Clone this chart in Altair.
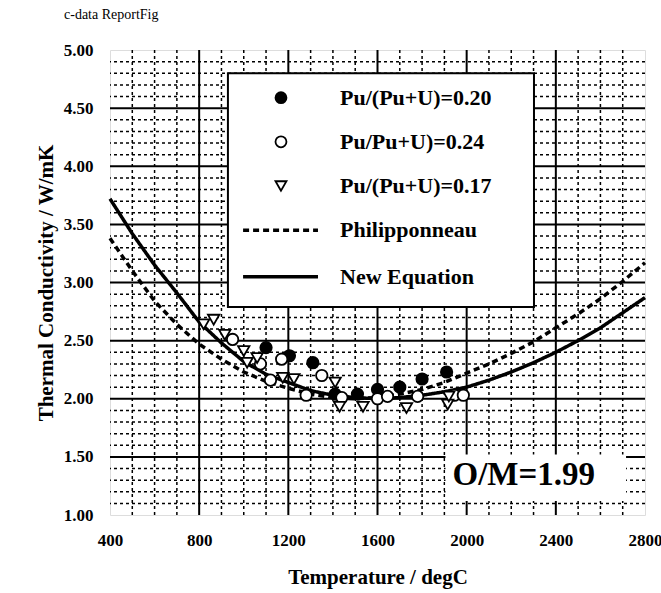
import altair as alt
import pandas as pd

FONT = "Liberation Serif"

# ---------------- data ----------------
SERIES = ["Pu/(Pu+U)=0.20", "Pu/Pu+U)=0.24", "Pu/(Pu+U)=0.17", "Philipponneau", "New Equation"]
POINT_SERIES = SERIES[:3]
CURVE_SERIES = SERIES[3:]

T_020 = [1100, 1205, 1310, 1410, 1510, 1600, 1700, 1800, 1910]
K_020 = [2.44, 2.37, 2.31, 2.04, 2.04, 2.08, 2.10, 2.17, 2.23]

T_024 = [950, 1075, 1120, 1170, 1280, 1350, 1440, 1600, 1645, 1780, 1945, 1985]
K_024 = [2.51, 2.30, 2.16, 2.34, 2.03, 2.20, 2.01, 2.00, 2.02, 2.02, 2.03, 2.03]

T_017 = [820, 865, 915, 1000, 1015, 1060, 1175, 1225, 1410, 1430, 1535, 1730, 1915, 1920]
K_017 = [2.64, 2.68, 2.55, 2.41, 2.31, 2.35, 2.18, 2.17, 2.14, 1.93, 1.93, 1.92, 1.95, 2.02]

CURVE_T = [400, 500, 600, 700, 800, 900, 1000, 1100, 1200, 1300, 1400, 1500, 1600,
           1700, 1800, 1900, 2000, 2100, 2200, 2300, 2400, 2500, 2600, 2700, 2800]
PHIL_K = [3.38, 3.10, 2.84, 2.64, 2.47, 2.34, 2.23, 2.15, 2.09, 2.04, 2.01, 2.00, 2.01,
          2.04, 2.08, 2.14, 2.22, 2.30, 2.39, 2.49, 2.61, 2.73, 2.86, 3.01, 3.17]
NEWEQ_K = [3.72, 3.42, 3.15, 2.91, 2.66, 2.48, 2.32, 2.21, 2.14, 2.07, 2.03, 2.01, 2.00,
           2.01, 2.03, 2.06, 2.10, 2.16, 2.23, 2.31, 2.40, 2.50, 2.61, 2.74, 2.87]

X_TICKS = [400, 800, 1200, 1600, 2000, 2400, 2800]
Y_TICKS = [1.0, 1.5, 2.0, 2.5, 3.0, 3.5, 4.0, 4.5, 5.0]
ANNOTATION = "O/M=1.99"
TOP_NOTE = "c-data ReportFig"

# ---------------- tables built from the arrays ----------------
points = pd.concat([
    pd.DataFrame({"T": T_020, "k": K_020, "series": SERIES[0]}),
    pd.DataFrame({"T": T_024, "k": K_024, "series": SERIES[1]}),
    pd.DataFrame({"T": T_017, "k": K_017, "series": SERIES[2]}),
], ignore_index=True)
curves = pd.concat([
    pd.DataFrame({"T": CURVE_T, "k": PHIL_K, "series": SERIES[3]}),
    pd.DataFrame({"T": CURVE_T, "k": NEWEQ_K, "series": SERIES[4]}),
], ignore_index=True)

x_major = pd.DataFrame({"T": X_TICKS[1:-1]})
y_major = pd.DataFrame({"k": Y_TICKS[1:-1]})
x_minor = pd.DataFrame({"T": [v for v in range(400, 2801, 100) if v % 400 != 0]})
y_minor = pd.DataFrame({"k": [round(1 + 0.1 * i, 1) for i in range(41) if i % 5 != 0]})

# ---------------- scales / axes ----------------
xscale = alt.Scale(domain=[400, 2800], nice=False, zero=False)
yscale = alt.Scale(domain=[1.0, 5.0], nice=False, zero=False)
xaxis = alt.Axis(values=X_TICKS, format="d", title="Temperature / degC", grid=False,
                 domain=False, ticks=False, tickSize=0, labelFlush=False, labelFont=FONT,
                 labelFontSize=17, labelFontWeight="bold", labelColor="black", labelPadding=17,
                 titleFont=FONT, titleFontSize=21, titleFontWeight="bold", titleColor="black",
                 titleY=68, titleBaseline="alphabetic")
yaxis = alt.Axis(values=Y_TICKS, format=".2f", title="Thermal Conductivity / W/mK", grid=False,
                 domain=False, ticks=False, tickSize=0, labelFlush=False, labelFont=FONT,
                 labelFontSize=17, labelFontWeight="bold", labelColor="black", labelPadding=17,
                 titleFont=FONT, titleFontSize=21, titleFontWeight="bold", titleColor="black",
                 titleX=-58, titleBaseline="alphabetic")

X = lambda: alt.X("T:Q", scale=xscale, axis=xaxis)
Y = lambda: alt.Y("k:Q", scale=yscale, axis=yaxis)

shape_scale = alt.Scale(domain=POINT_SERIES, range=["circle", "circle", "triangle-down"])
fill_scale = alt.Scale(domain=POINT_SERIES, range=["black", "white", "white"])
dash_scale = alt.Scale(domain=CURVE_SERIES, range=[[6, 4], [1, 0]])

# ---------------- grid ----------------
minor_v = alt.Chart(x_minor).mark_rule(color="black", strokeWidth=1.5, strokeDash=[3, 3]).encode(x=X())
minor_h = alt.Chart(y_minor).mark_rule(color="black", strokeWidth=1.5, strokeDash=[3, 3]).encode(y=Y())
major_v = alt.Chart(x_major).mark_rule(color="black", strokeWidth=2).encode(x=X())
major_h = alt.Chart(y_major).mark_rule(color="black", strokeWidth=2).encode(y=Y())

# ---------------- O/M annotation box ----------------
om_box = alt.Chart(pd.DataFrame({"T": [1905], "T2": [2715], "k": [1.12], "k2": [1.52]})).mark_rect(
    fill="white").encode(x=X(), x2="T2:Q", y=Y(), y2="k2:Q")
om_text = alt.Chart(pd.DataFrame({"T": [2256], "k": [1.34], "t": [ANNOTATION]})).mark_text(
    font=FONT, fontSize=33, fontWeight="bold", color="black", align="center", baseline="middle"
).encode(x=X(), y=Y(), text="t:N")

# ---------------- curves and points ----------------
lines = alt.Chart(curves).mark_line(color="black", strokeWidth=3.5).encode(
    x=X(), y=Y(),
    strokeDash=alt.StrokeDash("series:N", scale=dash_scale, legend=None),
)
pts = alt.Chart(points).mark_point(filled=True, opacity=1, stroke="black", strokeWidth=1.8, size=130).encode(
    x=X(), y=Y(),
    shape=alt.Shape("series:N", scale=shape_scale, legend=None),
    fill=alt.Fill("series:N", scale=fill_scale, legend=None),
)

# ---------------- legend (box, keys, labels) ----------------
LEG_ROW_K = [4.59, 4.21, 3.83, 3.45, 3.05]
legend_rows = pd.DataFrame({"series": SERIES, "k": LEG_ROW_K,
                            "Tsym": 1167, "Tl1": 997, "Tl2": 1333, "Ttxt": 1432})
leg_box = alt.Chart(pd.DataFrame({"T": [929], "T2": [2302], "k": [2.79], "k2": [4.80]})).mark_rect(
    fill="white", stroke="black", strokeWidth=2).encode(x=X(), x2="T2:Q", y=Y(), y2="k2:Q")
leg_pts = alt.Chart(legend_rows.iloc[:3]).mark_point(
    filled=True, opacity=1, stroke="black", strokeWidth=1.8, size=120).encode(
    x=alt.X("Tsym:Q", scale=xscale, axis=xaxis), y=Y(),
    shape=alt.Shape("series:N", scale=shape_scale, legend=None),
    fill=alt.Fill("series:N", scale=fill_scale, legend=None),
)
leg_lines = alt.Chart(legend_rows.iloc[3:]).mark_rule(color="black", strokeWidth=3.5).encode(
    x=alt.X("Tl1:Q", scale=xscale, axis=xaxis), x2="Tl2:Q", y=Y(),
    strokeDash=alt.StrokeDash("series:N", scale=dash_scale, legend=None),
)
leg_text = alt.Chart(legend_rows).mark_text(
    font=FONT, fontSize=22, fontWeight="bold", color="black", align="left", baseline="middle").encode(
    x=alt.X("Ttxt:Q", scale=xscale, axis=xaxis), y=Y(), text="series:N")

# ---------------- note above the plot ----------------
note = alt.Chart(pd.DataFrame({"t": [TOP_NOTE]})).mark_text(
    font=FONT, fontSize=14, fontWeight="normal", color="black", align="left",
    baseline="alphabetic").encode(x=alt.value(-46), y=alt.value(-31), text="t:N")

chart = alt.layer(
    minor_v, minor_h, major_v, major_h, om_box, om_text, lines, pts,
    leg_box, leg_pts, leg_lines, leg_text, note,
).properties(
    width=535, height=465,
    autosize=alt.AutoSizeParams(type="none"),
    padding={"left": 110, "top": 50, "right": 16, "bottom": 78},
).configure_view(
    stroke="black", strokeWidth=4
).configure(background="white")

chart.save("out.html", embed_options={"renderer": "svg", "actions": False})
